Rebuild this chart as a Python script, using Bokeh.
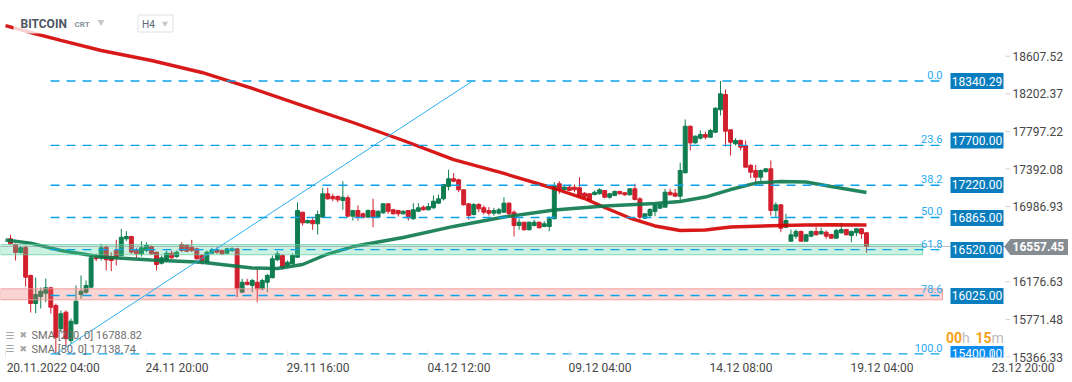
from bokeh.plotting import figure
from bokeh.models import Range1d, LinearAxis, FixedTicker, PrintfTickFormatter, ColumnDataSource
from bokeh.core.properties import value
from bokeh.embed import file_html
from bokeh.resources import INLINE

# ---------------- data (BITCOIN, H4 candles) ----------------
opens = [16640,16579,16492,16546,16245,15943,16018,16054,16112,15921,15670,15849,15544,15724,16040,16065,16119,16435,16435,16550,
         16449,16514,16460,16640,16665,16514,16478,16514,16557,16496,16377,16406,16485,16449,16579,16568,16550,16532,16460,16388,
         16485,16522,16514,16485,16514,16532,16065,16172,16137,16172,16101,16172,16220,16414,16460,16352,16371,16442,16927,16812,
         16837,16802,16873,17125,17096,17096,17053,17082,16884,16945,16909,16873,16945,16873,16920,17017,16953,16945,16909,16945,
         16856,16937,16981,16953,16974,17024,17071,17204,17287,17276,17168,17017,16902,17010,16974,16945,16916,16916,16927,17024,
         16927,16783,16819,16737,16783,16819,16773,16773,16856,17233,17168,17196,17196,17190,17131,17125,17117,17125,17161,17088,
         17107,17150,17136,17114,17179,17071,16862,16891,16934,16970,16981,17142,17131,17099,17351,17853,17674,17724,17764,17735,
         17789,18030,18195,17814,17664,17699,17645,17430,17376,17304,17365,17394,16945,17006,16765,16614,16668,16719,16614,16668,
         16719,16694,16711,16686,16647,16705,16740,16676,16705,16748,16705]
highs = [16683,16589,16557,16568,16255,16223,16115,16212,16119,15943,15868,15868,15781,16137,16245,16191,16449,16478,16586,16568,
         16496,16629,16748,16722,16670,16543,16614,16603,16568,16500,16460,16514,16514,16514,16603,16579,16629,16543,16478,16514,
         16543,16550,16525,16543,16550,16536,16209,16209,16209,16317,16209,16263,16460,16506,16478,16406,16482,17034,16930,16848,
         16866,16945,17190,17190,17125,17107,17261,17107,16945,16999,16923,16956,17071,16945,17024,17024,16963,16953,16945,16950,
         17024,17024,16999,17024,17107,17117,17228,17384,17347,17287,17170,17024,17024,17024,16999,16981,16974,16974,17088,17034,
         16945,16856,16822,16826,16845,16826,16830,16880,17250,17261,17214,17225,17225,17304,17142,17131,17161,17185,17163,17136,
         17161,17158,17142,17182,17233,17088,16913,16970,17017,17017,17179,17179,17179,17459,17926,17860,17753,17807,17796,17825,
         18058,18340,18249,17818,17724,17710,17699,17448,17437,17387,17401,17484,17034,17010,16909,16740,16740,16730,16694,16730,
         16765,16759,16730,16694,16748,16812,16749,16730,16749,16755,16708]
lows = [16579,16406,16482,16126,15846,15838,15889,15957,15835,15400,15634,15472,15512,15720,15994,16047,16110,16399,16406,16299,
        16291,16352,16449,16614,16478,16435,16449,16496,16471,16299,16363,16388,16425,16435,16496,16496,16496,16414,16363,16377,
        16478,16478,16471,16478,16496,16011,16060,16137,16065,15957,16083,16065,16215,16399,16306,16334,16368,16435,16783,16805,
        16737,16686,16870,17060,17045,17034,16953,16873,16837,16837,16859,16870,16765,16870,16909,16909,16902,16880,16902,16837,
        16845,16927,16945,16945,16963,17017,17053,17161,17250,17142,16999,16845,16891,16927,16902,16891,16891,16902,16920,16891,
        16665,16737,16730,16730,16773,16751,16765,16722,16850,17125,17161,17153,17142,17088,17082,17053,17107,17117,17078,17071,
        17099,17117,17103,17107,17053,16848,16859,16873,16884,16968,16978,17107,17095,17053,17345,17592,17664,17710,17710,17728,
        17778,17969,17635,17538,17645,17592,17408,17293,17243,17257,17351,16891,16873,16711,16754,16610,16640,16611,16611,16657,
        16676,16683,16640,16640,16640,16694,16676,16603,16668,16640,16489]
closes = [16586,16492,16543,16226,15943,16040,16075,16112,15903,15580,15832,15563,15752,15968,16075,16137,16435,16425,16543,16414,
          16406,16435,16657,16665,16496,16478,16543,16568,16478,16363,16435,16485,16435,16496,16514,16506,16514,16425,16406,16496,
          16522,16496,16478,16532,16532,16101,16172,16148,16191,16101,16191,16245,16425,16478,16334,16388,16460,16945,16812,16837,
          16802,16902,17125,17071,17071,17060,17088,16884,16945,16873,16873,16945,16873,16937,17017,16937,16909,16909,16937,16866,
          16953,16974,16953,16988,17045,17071,17225,17287,17261,17168,17006,16891,17010,16963,16927,16916,16945,16953,17024,16909,
          16783,16819,16737,16819,16819,16759,16802,16856,17214,17168,17196,17161,17168,17107,17096,17060,17142,17168,17088,17125,
          17150,17125,17114,17179,17064,16873,16909,16956,16999,17006,17142,17114,17099,17376,17853,17674,17746,17764,17735,17807,
          18047,18202,17800,17681,17699,17627,17412,17358,17304,17376,17394,16945,17006,16754,16837,16683,16719,16614,16683,16719,
          16683,16719,16668,16647,16730,16740,16683,16719,16748,16694,16557.45]
candle_idx = list(range(1, len(opens) + 1))

sma200_idx = [0,5,11,19,29,39,49,59,69,79,89,99,109,115,119,124,129,134,139,144,149,154,159,164,171]
sma200_val = [18938,18863,18777,18669,18561,18432,18260,18076,17893,17699,17494,17344,17182,17074,16977,16864,
              16778,16729,16735,16767,16776,16783,16789,16791,16789]
sma50_idx = [0,5,11,19,29,39,49,54,59,64,69,79,89,99,109,119,129,134,139,144,149,154,159,164,171]
sma50_val = [16627,16593,16514,16444,16412,16388,16325,16320,16363,16476,16557,16654,16773,16875,16950,16993,
             17020,17042,17090,17171,17241,17257,17252,17204,17139]

# Fibonacci retracement
fib_ratio_labels = ["0.0", "23.6", "38.2", "50.0", "61.8", "78.6", "100.0"]
fib_prices = [18340.29, 17646.4, 17217.1, 16870.1, 16523.2, 16029.2, 15400.0]
level_prices = [18340.29, 17700.0, 17220.0, 16865.0, 16520.0, 16025.0, 15400.0]
level_labels = ["18340.29", "17700.00", "17220.00", "16865.00", "16520.00", "16025.00", "15400.00"]
trend_idx = [10, 92.75]
trend_price = [15400.0, 18340.29]

# zones
green_zone = (16468, 16578)
red_zone = (15983, 16101)
last_price = 16557.45
last_price_label = "16557.45"

# axes
y_ticks = [15366.33, 15771.48, 16176.63, 16986.93, 17392.08, 17797.22, 18202.37, 18607.52]
x_tick_idx = [0, 28, 56, 84, 112, 140, 168, 196]
x_tick_labels = ["20.11.2022  04:00", "24.11  20:00", "29.11  16:00", "04.12  12:00",
                 "09.12  04:00", "14.12  08:00", "19.12  04:00", "23.12  20:00"]
sma_legend = ["SMA [200, 0] 16788.82", "SMA [50, 0] 17138.74"]

# ---------------- layout helpers (pixel -> data placement) ----------------
PX0, PXS = 5.0, 5.035           # pixel of candle 0, pixels per candle
PY0, PYS = 19207.7, 10.775      # price at top edge, price per pixel
def X(px):
    return (px - PX0) / PXS
def Y(py):
    return PY0 - PYS * py

FONT = value("Roboto")
GREEN = "#0f7d50"
RED = "#d21f2d"
FIB = "#0aa2ea"
FRAME_W, FRAME_H = 1068, 357

p = figure(frame_width=FRAME_W, frame_height=FRAME_H,
           x_range=Range1d(X(0), X(FRAME_W)), y_range=Range1d(Y(FRAME_H), Y(0)),
           output_backend="svg", toolbar_location=None,
           x_axis_location=None, y_axis_location=None,
           min_border_left=0, min_border_top=0, min_border_right=0, min_border_bottom=17,
           background_fill_color="white", border_fill_color="white", outline_line_color=None)
for g in p.grid:
    g.visible = False

# candles
cols = [GREEN if c >= o else RED for o, c in zip(opens, closes)]
src = ColumnDataSource(dict(x=candle_idx, o=opens, h=highs, l=lows, c=closes,
                            top=[max(o, c) for o, c in zip(opens, closes)],
                            bot=[min(o, c) for o, c in zip(opens, closes)], col=cols))
p.segment(x0="x", x1="x", y0="l", y1="h", line_color="col", line_width=1, source=src)
p.vbar(x="x", width=0.78, top="top", bottom="bot", fill_color="col", line_color="col", line_width=1, source=src)

# moving averages
p.line(sma200_idx, sma200_val, line_color="#d40000", line_width=3.4, line_alpha=0.9)
p.line(sma50_idx, sma50_val, line_color="#0a784b", line_width=3.4, line_alpha=0.9)

# zones
p.quad(left=X(0), right=X(922), bottom=green_zone[0], top=green_zone[1],
       fill_color="#50d2a0", fill_alpha=0.3, line_color="#5ccf9c", line_alpha=0.7, line_width=1)
p.quad(left=X(0), right=X(942), bottom=red_zone[0], top=red_zone[1],
       fill_color="#f06e6e", fill_alpha=0.3, line_color="#ef9a9a", line_alpha=0.9, line_width=1)

# current price line
p.segment(x0=X(0), x1=X(1004), y0=last_price, y1=last_price, line_color="#8a9296", line_alpha=0.6, line_width=1)

# fibonacci
p.segment(x0=[X(50)] * len(fib_prices), x1=[X(942)] * len(fib_prices), y0=fib_prices, y1=fib_prices,
          line_color=FIB, line_width=1.4, line_dash="9 7")
p.line(trend_idx, trend_price, line_color="#2ab0f2", line_width=1)
p.text(x=[X(942)] * len(fib_prices), y=fib_prices, text=fib_ratio_labels, text_font=FONT,
       text_font_size="11px", text_color="#2aa9ef", text_align="right", text_baseline="bottom", y_offset=-2)

box_cols = ["#0a7dbe"] * (len(level_prices) - 1) + ["#0a8cf0"]
p.rect(x=[X(976.5)] * len(level_prices), y=level_prices, width=53, height=16,
       width_units="screen", height_units="screen", fill_color=box_cols, line_color=None)
p.text(x=[X(976.5)] * len(level_prices), y=level_prices, text=level_labels, text_font=FONT,
       text_font_size="12px", text_color="white", text_align="center", text_baseline="middle")

# current price tag (arrow shaped)
tag_top, tag_bot = Y(238.5), Y(254.5)
p.patch(x=[X(1003.5), X(1010), X(1068), X(1068), X(1010)],
        y=[last_price, tag_top, tag_top, tag_bot, tag_bot], fill_color="#868d92", line_color=None)
p.text(x=[X(1012)], y=[last_price], text=[last_price_label], text_font=FONT, text_font_size="12px",
       text_font_style="bold", text_color="white", text_align="left", text_baseline="middle")

# small tick dashes of the price scale and faint time-tick marks
p.segment(x0=[X(1005)] * len(y_ticks), x1=[X(1010)] * len(y_ticks), y0=y_ticks, y1=y_ticks,
          line_color="#d0d0d0", line_width=1)
p.segment(x0=x_tick_idx, x1=x_tick_idx, y0=[Y(350)] * len(x_tick_idx), y1=[Y(357)] * len(x_tick_idx),
          line_color="#e6e6e6", line_width=1)

# header
p.quad(left=X(13), right=X(112), top=Y(11), bottom=Y(33), fill_color="white", fill_alpha=0.8, line_color=None)
p.text(x=[X(20)], y=[Y(23.5)], text=["BITCOIN"], text_font=FONT, text_font_size="12px",
       text_font_style="bold", text_color="#4d5661", text_baseline="middle")
p.text(x=[X(74)], y=[Y(24)], text=["CRT"], text_font=FONT, text_font_size="8px",
       text_font_style="bold", text_color="#8593a0", text_baseline="middle")
p.quad(left=X(137.5), right=X(172.5), top=Y(14.5), bottom=Y(31.5), fill_color="white",
       line_color="#dde1e4", line_width=1)
p.text(x=[X(141.5)], y=[Y(23.5)], text=["H4"], text_font=FONT, text_font_size="10px",
       text_color="#5a6470", text_baseline="middle")
p.scatter(x=[X(100.5), X(164.5)], y=[Y(21.5), Y(23)], marker="inverted_triangle", size=[7, 6],
          fill_color="#c3c8cd", line_color=None)

# legend of moving averages
p.text(x=[X(5), X(5)], y=[Y(334.5), Y(348)], text=["\u2630", "\u2630"], text_font=value("DejaVu Sans"),
       text_font_size="10px", text_color="#a5a5a5", text_baseline="middle")
p.text(x=[X(19), X(19)], y=[Y(334.5), Y(348)], text=["\u2716", "\u2716"], text_font=value("DejaVu Sans"),
       text_font_size="9px", text_color="#a5a5a5", text_baseline="middle")
p.text(x=[X(31), X(31)], y=[Y(335), Y(348.5)], text=sma_legend, text_font=FONT,
       text_font_size="11px", text_color="#6e6e6e", text_baseline="middle")

# countdown
p.text(x=[X(945.5), X(975)], y=[Y(337), Y(337)], text=["00", "15"], text_font=FONT, text_font_size="14px",
       text_font_style="bold", text_color="#f5a11c", text_baseline="middle")
p.text(x=[X(961.5), X(991)], y=[Y(337), Y(337)], text=["h", "m"], text_font=FONT, text_font_size="14px",
       text_color="#bdbdbd", text_baseline="middle")

# price axis: drawn at the frame's right edge, labels folded back inside the chart
yax = LinearAxis(ticker=FixedTicker(ticks=y_ticks), formatter=PrintfTickFormatter(format="%.2f"),
                 axis_line_color=None, major_tick_in=0, major_tick_out=0, major_tick_line_color=None,
                 minor_tick_line_color=None, major_label_standoff=-56,
                 major_label_text_font="Roboto", major_label_text_font_size="12px",
                 major_label_text_color="#474747")
p.add_layout(yax, "right")

# time axis: labels are centred, so the ticks sit at each label's centre
label_half_px = [49.2, 32, 32, 32, 32, 32, 32, 32]
x_label_pos = [round(t + h / PXS, 2) for t, h in zip(x_tick_idx, label_half_px)]
xax = LinearAxis(ticker=FixedTicker(ticks=x_label_pos),
                 major_label_overrides=dict(zip(x_label_pos, x_tick_labels)),
                 axis_line_color=None, major_tick_in=0, major_tick_out=0, minor_tick_line_color=None,
                 major_label_standoff=3,
                 major_label_text_font="Roboto", major_label_text_font_size="12px",
                 major_label_text_color="#474747")
p.add_layout(xax, "below")

open("out.html", "w").write(file_html(p, INLINE))
